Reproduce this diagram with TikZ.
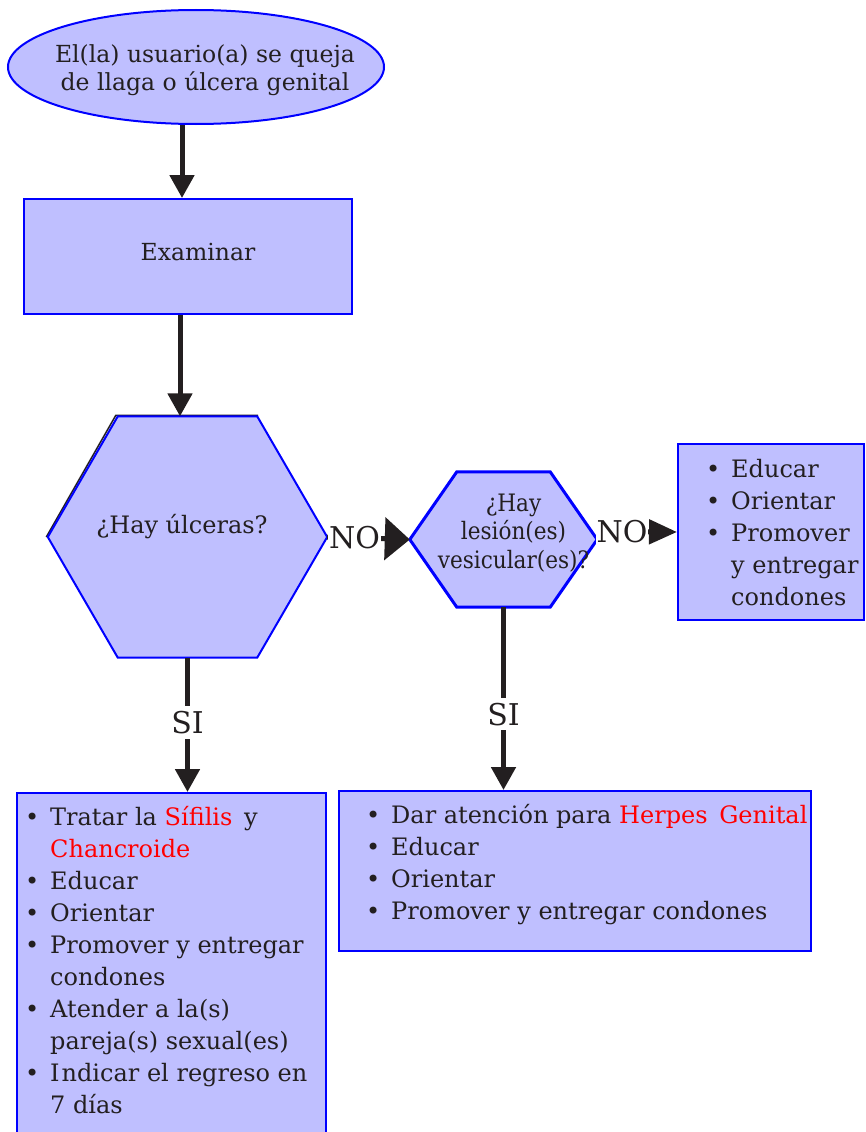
\documentclass[tikz,border=0pt]{standalone}
\usepackage{fontspec}
\setmainfont{DejaVu Serif}
\newfontfamily\condfont{DejaVu Serif Condensed}
\usetikzlibrary{arrows.meta,calc,shapes.geometric}
\definecolor{boxfill}{HTML}{BFBFFF}
\definecolor{boxdraw}{HTML}{0000FF}
\definecolor{ink}{HTML}{231F20}
\definecolor{hl}{HTML}{FF0000}
\newcommand{\bulitem}{\makebox[36pt][c]{•}}
\newcommand{\bulcont}{\hspace*{36pt}}
\begin{document}
\begin{tikzpicture}[x=1pt,y=-1pt,
  box/.style={draw=boxdraw, fill=boxfill, line width=2pt, inner sep=0pt},
  hexframe/.style={draw=none, inner sep=0pt},
  conn/.style={draw=ink, line width=5pt, -{Triangle[length=23pt,width=24pt]}},
  lbl/.style={font=\fontsize{30}{32}\selectfont, text=ink, fill=white, inner sep=1pt},
  body/.style={font=\fontsize{24}{32}\selectfont, text=ink, align=left, inner sep=0pt, anchor=north west},
  ctext/.style={font=\fontsize{23.5}{28}\selectfont, text=ink, align=center, inner sep=0pt}]
\useasboundingbox (0,0) rectangle (865,1132);

% start ellipse
\node[box, ellipse, minimum width=376pt, minimum height=114pt] (start) at (196,67) {};
\node[ctext, anchor=north] (starttext) at (205,42.4) {\strut El(la) usuario(a) se queja\\de llaga o úlcera genital};

% examinar
\node[box, rectangle, minimum width=328pt, minimum height=115pt] (b1) at (188,256.5) {};
\node[ctext, anchor=base] (b1text) at (198,260) {Examinar};

% hexagon 1
\node[hexframe, minimum width=279pt, minimum height=241pt] (h1) at (187.5,537) {};
\draw[ink, line width=1.5pt] ($(h1.west)+(-1.5,0)$) -- ($(h1.north west)+(68,-1)$) -- ($(h1.north east)+(-69,-1)$);
\draw[boxdraw, fill=boxfill, line width=2pt] (h1.west) -- ($(h1.north west)+(70,0)$) -- ($(h1.north east)+(-70,0)$) -- (h1.east) -- ($(h1.south east)+(-70,0)$) -- ($(h1.south west)+(70,0)$) -- cycle;
\node[ctext, anchor=base, font=\fontsize{24}{28}\selectfont] (h1text) at (182,533) {¿Hay úlceras?};

% hexagon 2
\node[hexframe, minimum width=187pt, minimum height=135pt] (h2) at (503.5,539.5) {};
\draw[boxdraw, fill=boxfill, line width=3pt] (h2.west) -- ($(h2.north west)+(47,0)$) -- ($(h2.north east)+(-47,0)$) -- (h2.east) -- ($(h2.south east)+(-47,0)$) -- ($(h2.south west)+(47,0)$) -- cycle;
\node[ctext, anchor=north, font=\condfont\fontsize{24}{28.5}\selectfont] (h2text) at (513.5,491) {\strut ¿Hay\\lesión(es)\\vesicular(es)?};

% box 3 (right)
\node[box, rectangle, minimum width=186pt, minimum height=176pt] (b3) at (771,532) {};
\node[body] (b3text) at (695,454.6) {\strut\bulitem Educar\\\bulitem Orientar\\\bulitem Promover\\\bulcont y entregar\\\bulcont condones};

% box 4 (bottom left)
\node[box, rectangle, minimum width=309pt, minimum height=360pt, anchor=north west] (b4) at (16,792) {};
\node[body] (b4text) at (14,802.6) {\strut\bulitem Tratar la \textcolor{hl}{Sífilis}\hspace{4pt} y\\\bulcont \textcolor{hl}{Chancroide}\\\bulitem Educar\\\bulitem Orientar\\\bulitem Promover y entregar\\\bulcont condones\\\bulitem Atender a la(s)\\\bulcont pareja(s) sexual(es)\\\bulitem I\hspace{2pt}ndicar el regreso en\\\bulcont 7 días};

% box 5 (bottom right)
\node[box, rectangle, minimum width=472pt, minimum height=160pt] (b5) at (575,871) {};
\node[body] (b5text) at (355,800.6) {\strut\bulitem Dar atención para \textcolor{hl}{Herpes\hspace{4pt} Genital}\\\bulitem Educar\\\bulitem Orientar\\\bulitem Promover y entregar condones};

% connectors
\draw[conn] ([xshift=-14pt]start.south) -- ([xshift=-6pt]b1.north);
\draw[conn] ([xshift=-8pt]b1.south) -- ([xshift=-7.5pt]h1.north);
\draw[conn, -{Triangle[length=25pt,width=42pt]}] (h1.east) -- node[lbl, pos=0.33] {NO} (h2.west);
\draw[conn, -{Triangle[length=28pt,width=24pt]}] ([yshift=8pt]h2.east) -- node[lbl, pos=0.31] {NO} (b3.west);
\draw[conn] (h1.south) -- node[lbl, pos=0.48, inner ysep=5pt] {SI} (h1.south |- b4.north);
\draw[conn] (h2.south) -- node[lbl, pos=0.585, inner ysep=5pt] {SI} (h2.south |- b5.north);
\end{tikzpicture}
\end{document}
